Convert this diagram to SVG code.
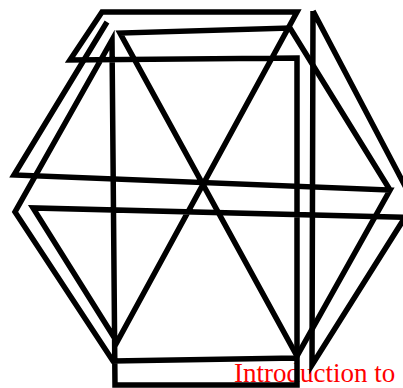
<svg xmlns="http://www.w3.org/2000/svg" width="403" height="388" viewBox="0 0 403 388">
<style>
.s{fill:none;stroke:#000;stroke-width:5.5;stroke-linejoin:miter;stroke-miterlimit:10}
.t{font-family:"Liberation Serif","Times New Roman",serif;font-size:27px;fill:#ff0000}
</style>
<rect width="403" height="388" fill="#fff"/>
<text class="t" x="234" y="382">Introduction to</text>
<g id="shapes">
<polyline class="s" points="297,358 113,361 15,212 112,40 115,385 297,385 297,58 70,60 102,12 297,12 117,342 33,208 430,218"/>
<polyline class="s" points="107,22 14,175 390,190 297,356 120,33 290,28 390,190"/>
<polyline class="s" points="313,11 414,203 312,365 313,11"/>
</g>
</svg>
